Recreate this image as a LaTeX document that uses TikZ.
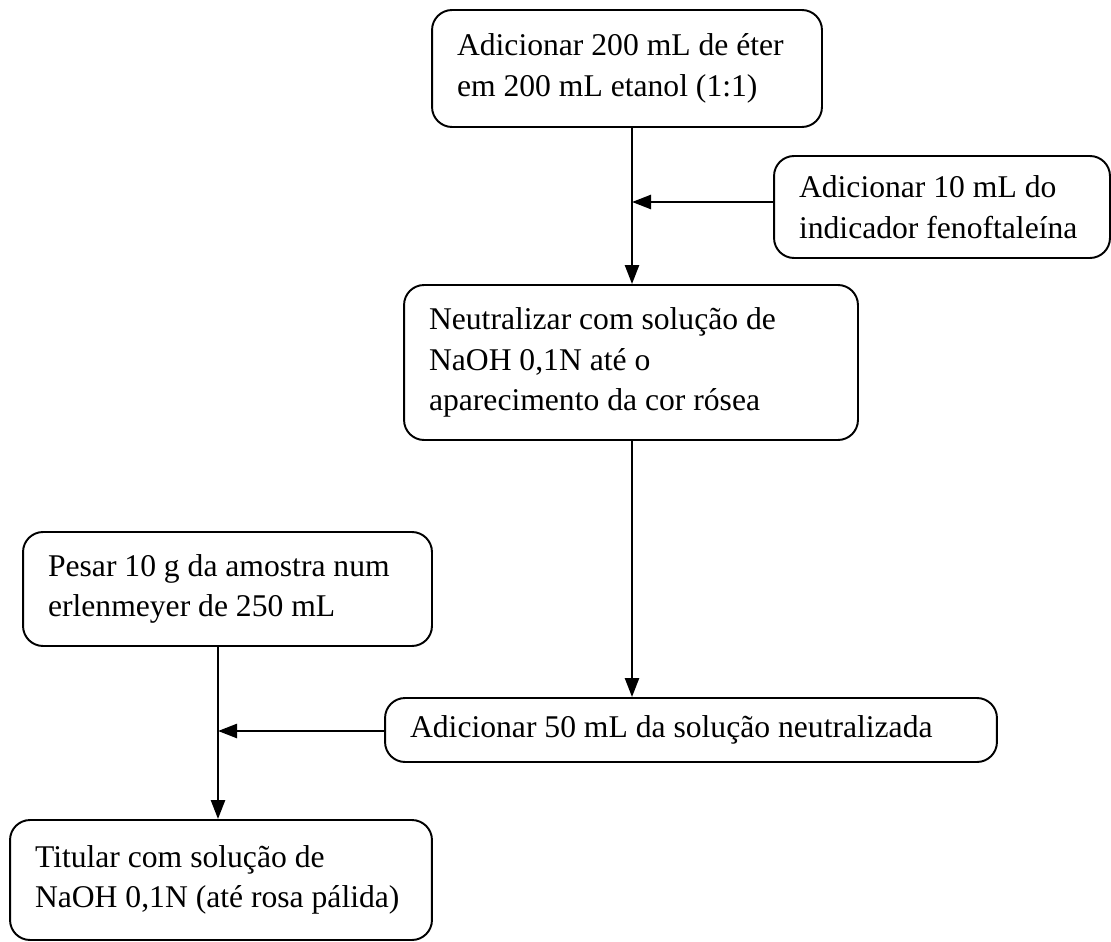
\documentclass[tikz,border=0pt]{standalone}
\usepackage{fontspec}
\setmainfont{Liberation Serif}
\usepackage{tikz}
\usetikzlibrary{arrows.meta}

\newcommand{\stepfont}{\fontsize{18}{23}\selectfont\hyphenpenalty=10000 \exhyphenpenalty=10000 }

\tikzset{
  stepbox/.style={draw,line width=1.1pt,rounded corners=0.4cm,align=flush left,inner xsep=0.5cm,inner ysep=0pt,
    font=\stepfont},
  flowarrow/.style={line width=1.4pt,-{Triangle[length=0.38cm,width=0.28cm]}}
}

\begin{document}
\begin{tikzpicture}[x=0.02cm,y=-0.02cm]
\useasboundingbox (0,0) rectangle (1111,942);
\node[stepbox,text width=6.8cm,minimum height=2.34cm] (eter) at (627,68.5) {Adicionar 200 mL de éter\\em 200 mL etanol (1:1)};
\node[stepbox,text width=5.72cm,minimum height=2.04cm] (indic) at (942,207) {Adicionar 10 mL do\\indicador fenoftaleína};
\node[stepbox,text width=8.08cm,minimum height=3.1cm] (neutra) at (631,362.5) {Neutralizar com solução de\\NaOH 0,1N até o\\aparecimento da cor rósea};
\node[stepbox,text width=7.18cm,minimum height=2.28cm] (pesar) at (227.5,589) {Pesar 10 g da amostra num\\erlenmeyer de 250 mL};
\node[stepbox,text width=11.24cm,minimum height=1.28cm] (adic) at (691,730) {Adicionar 50 mL da solução neutralizada};
\node[stepbox,text width=7.44cm,minimum height=2.4cm] (titul) at (221,880) {Titular com solução de\\NaOH 0,1N (até rosa pálida)};
\coordinate (j1) at (632,202);
\coordinate (j2) at (218,731);
\draw[flowarrow] (eter.south -| j1) -- (neutra.north -| j1);
\draw[flowarrow] (indic.west |- j1) -- (j1);
\draw[flowarrow] (neutra.south -| j1) -- (adic.north -| j1);
\draw[flowarrow] (pesar.south -| j2) -- (titul.north -| j2);
\draw[flowarrow] (adic.west |- j2) -- (j2);
\end{tikzpicture}
\end{document}
